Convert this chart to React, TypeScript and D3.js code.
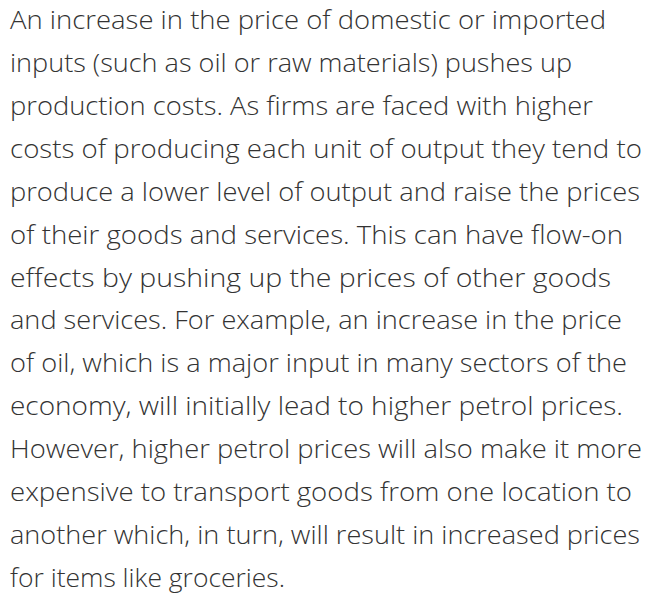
import React from 'react';
import * as d3 from 'd3';

// paragraph text, one entry per rendered line
const lines = [
  'An increase in the price of domestic or imported',
  'inputs (such as oil or raw materials) pushes up',
  'production costs. As firms are faced with higher',
  'costs of producing each unit of output they tend to',
  'produce a lower level of output and raise the prices',
  'of their goods and services. This can have flow-on',
  'effects by pushing up the prices of other goods',
  'and services. For example, an increase in the price',
  'of oil, which is a major input in many sectors of the',
  'economy, will initially lead to higher petrol prices.',
  'However, higher petrol prices will also make it more',
  'expensive to transport goods from one location to',
  'another which, in turn, will result in increased prices',
  'for items like groceries.',
];

// right edge of each line as measured on the reference
const lineEnds = [606, 572, 593, 642, 640, 623, 611, 622, 627, 623, 642, 632, 640, 285];

const W = 649;
const H = 594;

export default function App() {
  const left = 10;
  const y = d3.scaleLinear().domain([0, lines.length - 1]).range([29, 587]);

  return (
    <svg width={W} height={H} style={{ display: 'block', position: 'absolute', left: 0, top: 0 }}>
      <rect width={W} height={H} fill="#ffffff" />
      <g fontFamily="'Open Sans', 'Noto Sans', sans-serif" fontWeight={300} fontSize={26} fill="#333333">
        {lines.map((t, i) => (
          <text
            key={i}
            x={left}
            y={y(i)}
            textLength={lineEnds[i] - left}
            lengthAdjust="spacingAndGlyphs"
          >
            {t}
          </text>
        ))}
      </g>
    </svg>
  );
}
